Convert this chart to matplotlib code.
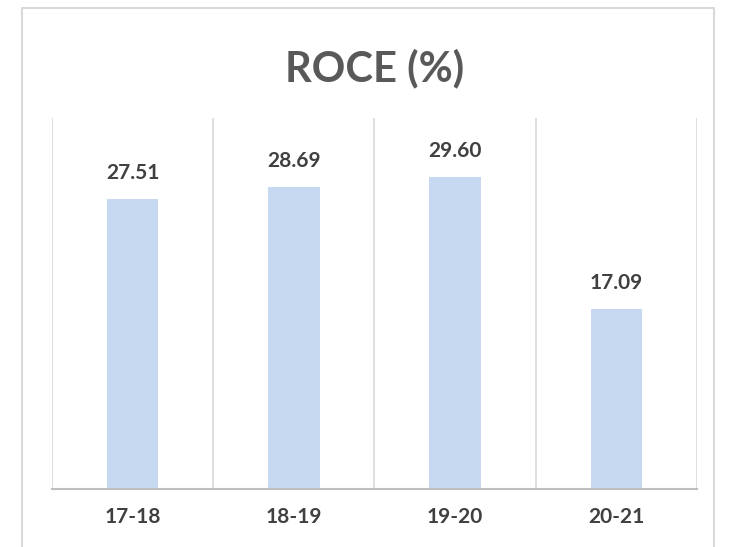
import matplotlib.pyplot as plt
from matplotlib.patches import Rectangle

years = ['17-18', '18-19', '19-20', '20-21']
roce = [27.51, 28.69, 29.60, 17.09]

fig = plt.figure(figsize=(7.31, 5.47), dpi=100)
plt.rcParams['font.family'] = ['Lato', 'DejaVu Sans']

# outer chart border
fig.patches.append(Rectangle((22 / 731, -0.05), (714 - 22) / 731, 1.05 - 8 / 547,
                             transform=fig.transFigure, fill=False,
                             edgecolor='#D9D9D9', linewidth=1.5))

ax = fig.add_axes([52 / 731, 1 - 489 / 547, (697 - 52) / 731, (489 - 118) / 547])
x = range(len(years))
ax.bar(x, roce, width=0.32, color='#C6D9F0')
for i, v in zip(x, roce):
    ax.text(i, v + 1.5, f'{v:.2f}', ha='center', va='bottom',
            fontsize=15, fontweight='bold', color='#404040')

for b in [-0.5, 0.5, 1.5, 2.5, 3.5]:
    ax.axvline(b, color='#D9D9D9', linewidth=1.2, zorder=0)

ax.set_xlim(-0.5, 3.5)
ax.set_ylim(0, 35.2)
ax.set_xticks(list(x))
ax.set_xticklabels(years, fontsize=15, fontweight='bold', color='#404040')
ax.tick_params(axis='x', length=0, pad=13)
ax.set_yticks([])
for s in ['top', 'left', 'right']:
    ax.spines[s].set_visible(False)
ax.spines['bottom'].set_color('#BFBFBF')
ax.spines['bottom'].set_linewidth(1.5)

fig.text(375 / 731, 1 - 68 / 547, 'ROCE (%)', ha='center', va='center',
         fontsize=30, fontweight='bold', color='#595959')

fig.savefig('out.png', dpi=100)
